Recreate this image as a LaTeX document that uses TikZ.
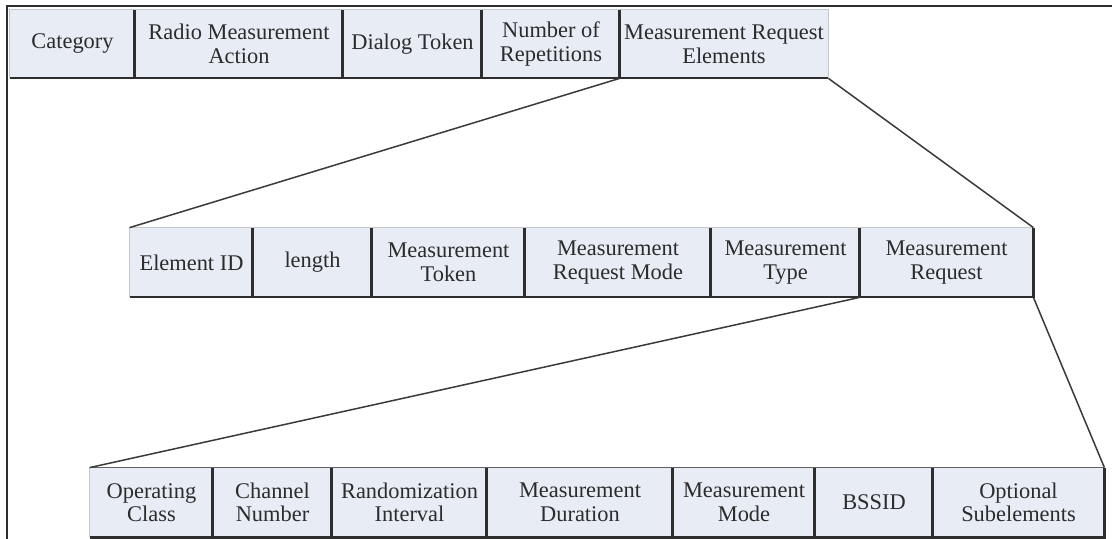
\documentclass[tikz,border=0pt]{standalone}
\usepackage{fontspec}
\setmainfont{Liberation Serif}

\definecolor{cellfill}{HTML}{E7ECF5}
\definecolor{celltext}{HTML}{2C2C2C}
\definecolor{edgelight}{HTML}{C4C8CE}
\definecolor{edgedark}{HTML}{2E2E2E}
\definecolor{linkline}{HTML}{3A3A3A}

\tikzset{
  cellbox/.style={rectangle, fill=cellfill, inner sep=0pt, align=center,
    text=celltext, font=\fontsize{11.2}{11.8}\selectfont},
  lightedge/.style={draw=edgelight, line width=0.6pt},
  darkedge/.style={draw=edgedark, line width=1.1pt},
  divider/.style={draw=edgedark, line width=1.3pt},
  link/.style={draw=linkline, line width=0.75pt},
  frame/.style={draw=edgedark, line width=1pt}
}

% \fieldcell{name}{left}{right}{top}{bottom}{text}, coordinates in pixels
\newcommand\fieldcell[6]{%
  \node[cellbox, minimum width={(#3-#2)*0.5pt}, minimum height={(#5-#4)*0.5pt}]
    (#1) at ({(#2+#3)/2},{(#4+#5)/2}) {#6};}

\begin{document}
\begin{tikzpicture}[x=0.5pt, y=-0.5pt]
\useasboundingbox (0,0) rectangle (1112,539);

% outer frame (left and top edges)
\draw[frame] (7,539) -- (7,6) -- (1112,6);

% ---------- action frame ----------
\fieldcell{cat}{10}{135}{10}{78}{Category}
\fieldcell{rma}{135}{343}{10}{78}{Radio Measurement\\Action}
\fieldcell{dtok}{343}{482}{10}{78}{Dialog Token}
\fieldcell{nrep}{482}{620}{10}{78}{Number of\\Repetitions}
\fieldcell{mre}{620}{828}{10}{78}{Measurement Request\\Elements}

\draw[lightedge] (cat.south west) -- (cat.north west) -- (mre.north east) -- (mre.south east);
\draw[darkedge] (cat.south west) -- (mre.south east);
\foreach \n in {rma,dtok,nrep,mre} \draw[divider] (\n.north west) -- (\n.south west);

% ---------- measurement request element ----------
\fieldcell{eid}{130}{253}{228}{297}{Element ID}
\fieldcell{len}{253}{372}{228}{297}{length}
\fieldcell{mtok}{372}{525}{228}{297}{Measurement\\Token}
\fieldcell{mrm}{525}{711}{228}{297}{Measurement\\Request Mode}
\fieldcell{mtype}{711}{860}{228}{297}{Measurement\\Type}
\fieldcell{mreq}{860}{1033}{228}{297}{Measurement\\Request}

\draw[lightedge] (eid.south west) -- (eid.north west) -- (mreq.north east);
\draw[darkedge] (eid.south west) -- (mreq.south east) -- (mreq.north east);
\foreach \n in {len,mtok,mrm,mtype,mreq} \draw[divider] (\n.north west) -- (\n.south west);

% ---------- measurement request field ----------
\fieldcell{opc}{90}{213}{468}{537}{Operating\\Class}
\fieldcell{chn}{213}{332}{468}{537}{Channel\\Number}
\fieldcell{rint}{332}{487}{468}{537}{Randomization\\Interval}
\fieldcell{mdur}{487}{673}{468}{537}{Measurement\\Duration}
\fieldcell{mmode}{673}{815}{468}{537}{Measurement\\Mode}
\fieldcell{bssid}{815}{933}{468}{537}{BSSID}
\fieldcell{opt}{933}{1104}{468}{537}{Optional\\Subelements}

\draw[lightedge] (opc.south west) -- (opc.north west);
\draw[draw=edgedark!75, line width=0.8pt] (opc.north west) -- (opt.north east);
\draw[darkedge] (opc.south west) -- (opt.south east) -- (opt.north east);
\foreach \n in {chn,rint,mdur,mmode,bssid,opt} \draw[divider] (\n.north west) -- (\n.south west);

% ---------- expansion lines ----------
\draw[link] (mre.south west) -- (eid.north west);
\draw[link] (mre.south east) -- (mreq.north east);
\draw[link] (mreq.south west) -- (opc.north west);
\draw[link] (mreq.south east) -- (opt.north east);
\end{tikzpicture}
\end{document}
